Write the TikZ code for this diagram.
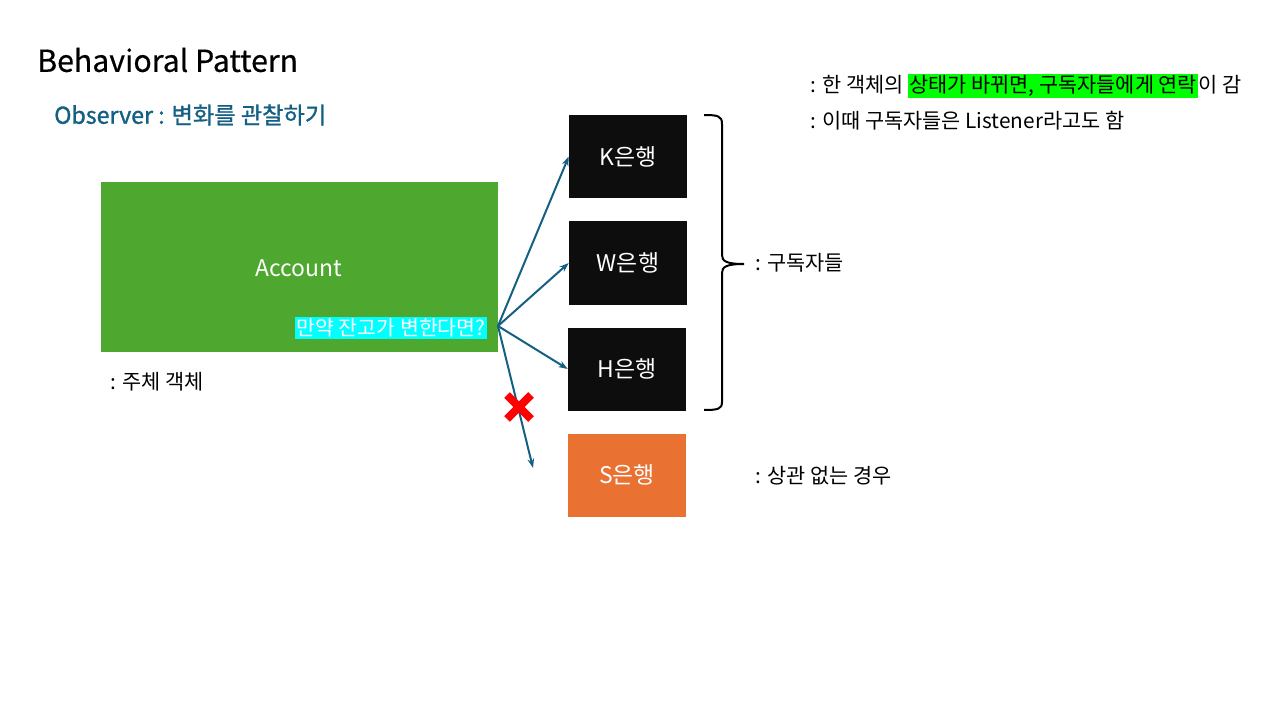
\documentclass[tikz,border=0pt]{standalone}
\usepackage{fontspec}
\setmainfont{Noto Sans CJK KR}
\newfontfamily\semibold{Noto Sans CJK KR}[FakeBold=1.2]
\newfontfamily\slightbold{Noto Sans CJK KR}[FakeBold=0.5]
\usetikzlibrary{arrows.meta,calc}
\definecolor{acc}{HTML}{4EA72E}
\definecolor{blk}{HTML}{0D0D0D}
\definecolor{org}{HTML}{E97132}
\definecolor{arr}{HTML}{156082}
\definecolor{cyanhl}{HTML}{00FFFF}
\definecolor{greenhl}{HTML}{00FF00}
\tikzset{
  bank/.style={fill=blk, text=white, minimum width=118*0.75pt, minimum height=83*0.75pt, inner sep=0pt, font=\fontsize{17.2}{20}\selectfont},
  note/.style={anchor=west, inner sep=0pt, font=\fontsize{15.6}{18}\selectfont},
  link/.style={draw=arr, line width=1.5pt, -{Stealth[length=7pt,width=5pt]}},
}
\begin{document}
\begin{tikzpicture}[x=0.75pt,y=-0.75pt]
\useasboundingbox (0,0) rectangle (1280,720);
\node[anchor=west, inner sep=0pt, font=\slightbold\fontsize{22.7}{26}\selectfont] (title) at (37,60) {Behavioral Pattern};
\node[anchor=west, inner sep=0pt, text=arr, font=\semibold\fontsize{17.4}{20}\selectfont] (sub) at (54,115) {Observer : 변화를 관찰하기};
\node[fill=acc, minimum width=397*0.75pt, minimum height=170*0.75pt, inner sep=0pt] (account) at (299.5,267) {};
\node[text=white, font=\fontsize{17.2}{20}\selectfont, inner sep=0pt] (acclabel) at (299,268) {Account};
\node[anchor=east, fill=cyanhl, text=white, inner sep=1pt, font=\fontsize{15.4}{18}\selectfont] (q) at (487,328) {만약 잔고가 변한다면?};
\coordinate (src) at (498,326);
\node[note] (subj) at (110,382) {: 주체 객체};
\node[bank] (K) at (628,156.5) {K은행};
\node[bank] (W) at (628,263) {W은행};
\node[bank] (H) at (627,369) {H은행};
\node[bank, fill=org] (S) at (627,475) {S은행};
\draw[link] (src) -- (K.west);
\draw[link] (src) -- (W.west);
\draw[link] (src) -- (H.west);
\coordinate (send) at (533,468);
\draw[link] (src) -- (send);
\coordinate (xc) at (519,407);
\draw[red, line width=6pt] ($(xc)+(-12,-12)$) -- ($(xc)+(12,12)$);
\draw[red, line width=6pt] ($(xc)+(12,-12)$) -- ($(xc)+(-12,12)$);
\coordinate (btop) at (704,115);
\coordinate (btip) at (744,264);
\coordinate (bbot) at (704,410);
\draw[line width=1.5pt] (btop) .. controls (718,115) and (722,116) .. (722,124) -- (722,255) .. controls (722,261) and (726,264) .. (btip) .. controls (726,264) and (722,267) .. (722,273) -- (722,402) .. controls (722,409) and (718,410) .. (bbot);
\node[note] (subs) at (755,263) {: 구독자들};
\node[note] (unrel) at (755,476) {: 상관 없는 경우};
\node[note] (n1) at (810,86) {: 한 객체의 {\setlength{\fboxsep}{1pt}\colorbox{greenhl}{상태가 바뀌면, 구독자들에게 연락}}이 감};
\node[note] (n2) at (810,121) {: 이때 구독자들은 Listener라고도 함};
\end{tikzpicture}
\end{document}
